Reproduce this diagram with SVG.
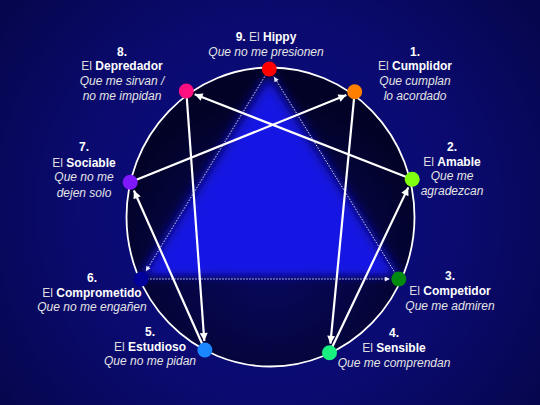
<svg xmlns="http://www.w3.org/2000/svg" width="540" height="405" viewBox="0 0 540 405">
  <defs>
    <radialGradient id="bg" cx="270" cy="210" r="330" gradientUnits="userSpaceOnUse">
      <stop offset="0" stop-color="#0c0c8a"/>
      <stop offset="0.6" stop-color="#0a0a6e"/>
      <stop offset="1" stop-color="#06064e"/>
    </radialGradient>
    <radialGradient id="inner" cx="270" cy="260" r="165" gradientUnits="userSpaceOnUse">
      <stop offset="0" stop-color="#080862"/>
      <stop offset="0.6" stop-color="#050540"/>
      <stop offset="1" stop-color="#020226"/>
    </radialGradient>
    <filter id="blur" filterUnits="userSpaceOnUse" x="0" y="0" width="540" height="405">
      <feGaussianBlur stdDeviation="7 4"/>
    </filter>
    <clipPath id="clipEll">
      <ellipse cx="270.5" cy="217" rx="144" ry="149.5"/>
    </clipPath>
    <marker id="arr" viewBox="0 0 10 10" refX="10" refY="5" markerWidth="4.2" markerHeight="3.6" orient="auto" markerUnits="strokeWidth">
      <path d="M0,0 L10,5 L0,10 z" fill="#ffffff"/>
    </marker>
    <marker id="arrs" viewBox="0 0 10 10" refX="10" refY="5" markerWidth="6" markerHeight="5" orient="auto" markerUnits="userSpaceOnUse">
      <path d="M0,0 L10,5 L0,10 z" fill="#e8e8ff"/>
    </marker>
  </defs>
  <style>
    text { font-family: "Liberation Sans", Arial, sans-serif; font-size: 12px; fill: #ffffff; text-anchor: middle; }
    .b { font-weight: bold; fill: #ffffff; }
    .r { fill: #dcdcdc; }
    .i { font-style: italic; fill: #e4e4e4; }
    .solid { stroke: #ffffff; stroke-width: 2.2; fill: none; marker-end: url(#arr); }
    .dot { stroke: #d8d8ff; stroke-width: 1; stroke-dasharray: 1.5 1.5; fill: none; marker-end: url(#arrs); }
  </style>

  <rect x="0" y="0" width="540" height="405" fill="url(#bg)"/>

  <g id="enneagram-circle">
    <ellipse cx="270.5" cy="217" rx="144" ry="149.5" fill="url(#inner)"/>
    <g clip-path="url(#clipEll)">
      <g filter="url(#blur)">
        <polygon points="269,74 142,276 398,276" fill="#1212e4"/>
      </g>
    </g>
    <ellipse cx="270.5" cy="217" rx="144" ry="149.5" fill="none" stroke="#ffffff" stroke-width="1.8"/>
  </g>

  <g id="connectors">
    <line class="solid" x1="186.3" y1="91" x2="204.3" y2="341"/>
    <line class="solid" x1="204.9" y1="350" x2="133.9" y2="190.5"/>
    <line class="solid" x1="130.2" y1="182.3" x2="346.4" y2="95.1"/>
    <line class="solid" x1="354.7" y1="91.7" x2="330.4" y2="343.7"/>
    <line class="solid" x1="329.5" y1="352.7" x2="408.3" y2="187.4"/>
    <line class="solid" x1="412.2" y1="179.3" x2="194.7" y2="94.3"/>
    <line class="dot" x1="269.3" y1="69" x2="145.9" y2="271.3"/>
    <line class="dot" x1="141.2" y1="279" x2="389.8" y2="279"/>
    <line class="dot" x1="398.8" y1="279" x2="274" y2="76.7"/>
  </g>

  <g id="node-9">
    <circle cx="269.3" cy="69" r="7.5" fill="#ff0000"/>
    <text x="266" y="41"><tspan class="b">9.</tspan><tspan class="r"> El </tspan><tspan class="b">Hippy</tspan></text>
    <text x="266" y="56" class="i">Que no me presionen</text>
  </g>
  <g id="node-1">
    <circle cx="354.7" cy="91.7" r="7.5" fill="#ff8000"/>
    <text x="415" y="56" class="b">1.</text>
    <text x="415" y="70"><tspan class="r">El </tspan><tspan class="b">Cumplidor</tspan></text>
    <text x="415" y="85" class="i">Que cumplan</text>
    <text x="415" y="100" class="i">lo acordado</text>
  </g>
  <g id="node-2">
    <circle cx="412.2" cy="179.3" r="7.5" fill="#80ff10"/>
    <text x="452" y="151" class="b">2.</text>
    <text x="452" y="166"><tspan class="r">El </tspan><tspan class="b">Amable</tspan></text>
    <text x="452" y="180" class="i">Que me</text>
    <text x="452" y="195" class="i">agradezcan</text>
  </g>
  <g id="node-3">
    <circle cx="398.8" cy="279" r="7.5" fill="#008a10"/>
    <text x="450" y="280" class="b">3.</text>
    <text x="450" y="295"><tspan class="r">El </tspan><tspan class="b">Competidor</tspan></text>
    <text x="450" y="310" class="i">Que me admiren</text>
  </g>
  <g id="node-4">
    <circle cx="329.5" cy="352.7" r="7.5" fill="#18f080"/>
    <text x="394" y="337" class="b">4.</text>
    <text x="394" y="352"><tspan class="r">El </tspan><tspan class="b">Sensible</tspan></text>
    <text x="394" y="367" class="i">Que me comprendan</text>
  </g>
  <g id="node-5">
    <circle cx="204.9" cy="350" r="7.5" fill="#1a86ff"/>
    <text x="150" y="336" class="b">5.</text>
    <text x="150" y="351"><tspan class="r">El </tspan><tspan class="b">Estudioso</tspan></text>
    <text x="150" y="365" class="i">Que no me pidan</text>
  </g>
  <g id="node-6">
    <circle cx="141.2" cy="279" r="7.5" fill="#00009a"/>
    <text x="92" y="282" class="b">6.</text>
    <text x="92" y="297"><tspan class="r">El </tspan><tspan class="b">Comprometido</tspan></text>
    <text x="92" y="311" class="i">Que no me engañen</text>
  </g>
  <g id="node-7">
    <circle cx="130.2" cy="182.3" r="7.5" fill="#8018ff"/>
    <text x="84" y="151" class="b">7.</text>
    <text x="84" y="167"><tspan class="r">El </tspan><tspan class="b">Sociable</tspan></text>
    <text x="84" y="181" class="i">Que no me</text>
    <text x="84" y="197" class="i">dejen solo</text>
  </g>
  <g id="node-8">
    <circle cx="186.3" cy="91" r="7.5" fill="#ff1080"/>
    <text x="122" y="56" class="b">8.</text>
    <text x="122" y="70"><tspan class="r">El </tspan><tspan class="b">Depredador</tspan></text>
    <text x="122" y="85" class="i">Que me sirvan /</text>
    <text x="122" y="100" class="i">no me impidan</text>
  </g>
</svg>
